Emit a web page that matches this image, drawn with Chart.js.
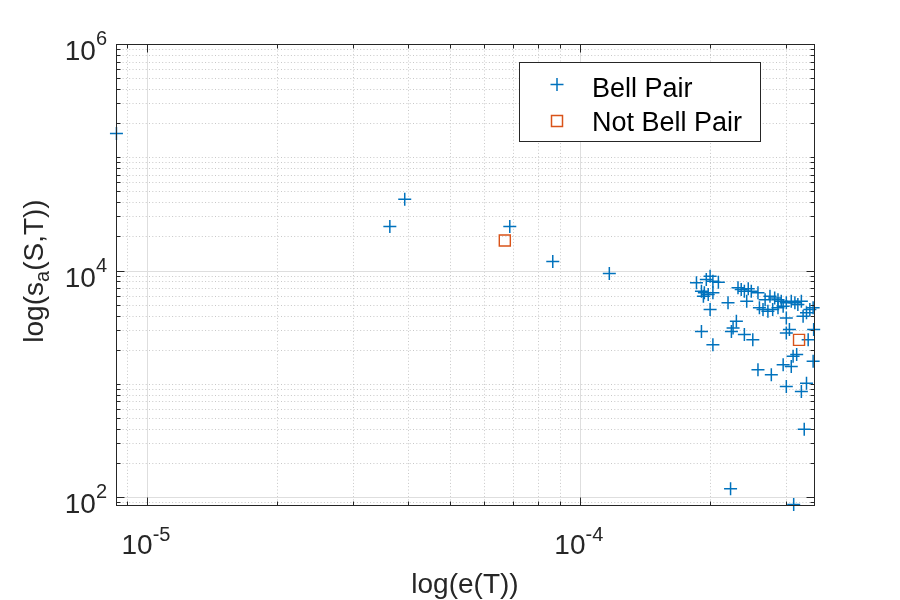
<!DOCTYPE html>
<html>
<head>
<meta charset="utf-8">
<script src="https://cdn.jsdelivr.net/npm/chart.js@4/dist/chart.umd.min.js"></script>
<style>
html, body { margin: 0; padding: 0; background: #fff; }
</style>
</head>
<body>
<canvas id="myChart" width="900" height="600"></canvas>
<script>
// log-log scatter, drawn to look like the matlab figure
var bellX = [8.5e-6, 3.94e-5, 3.64e-5, 6.89e-5, 8.66e-5, 1.17e-4,
	1.86e-4, 1.96e-4, 2.00e-4, 2.03e-4, 2.09e-4, 1.91e-4, 1.94e-4, 1.98e-4, 2.03e-4, 1.93e-4,
	2.00e-4, 2.20e-4, 1.91e-4, 2.03e-4, 2.30e-4, 2.26e-4, 2.24e-4, 2.40e-4, 2.51e-4,
	2.32e-4, 2.36e-4, 2.40e-4, 2.45e-4, 2.49e-4, 2.58e-4, 2.43e-4,
	2.68e-4, 2.75e-4, 2.82e-4, 2.87e-4, 2.92e-4, 2.65e-4, 2.72e-4, 2.79e-4, 2.87e-4, 2.95e-4,
	3.00e-4, 3.08e-4, 3.14e-4, 3.19e-4, 3.25e-4, 2.60e-4, 3.00e-4, 3.05e-4, 3.00e-4,
	3.28e-4, 3.34e-4, 3.40e-4, 3.46e-4, 3.47e-4, 3.37e-4, 3.17e-4, 3.11e-4, 2.95e-4, 3.08e-4,
	2.58e-4, 2.77e-4, 3.46e-4, 3.00e-4, 3.25e-4, 3.34e-4, 3.30e-4, 2.23e-4, 3.12e-4];
var bellY = [1.62e5, 4.25e4, 2.45e4, 2.45e4, 1.20e4, 9.4e3,
	7.78e3, 8.32e3, 8.91e3, 8.04e3, 7.88e3, 6.56e3, 6.35e3, 6.14e3, 6.35e3, 5.93e3,
	4.52e3, 5.18e3, 2.90e3, 2.21e3, 3.56e3, 3.11e3, 2.90e3, 2.72e3, 2.45e3,
	7.03e3, 6.79e3, 6.56e3, 6.89e3, 6.56e3, 6.35e3, 5.35e3,
	5.53e3, 5.93e3, 5.73e3, 5.53e3, 5.35e3, 4.52e3, 4.37e3, 4.52e3, 4.68e3, 4.83e3,
	5.18e3, 5.35e3, 5.18e3, 5.00e3, 5.35e3, 4.68e3, 3.81e3, 3.01e3, 2.81e3,
	3.94e3, 4.23e3, 4.52e3, 4.68e3, 3.01e3, 2.45e3, 1.81e3, 1.75e3, 1.47e3, 1.42e3,
	1.33e3, 1.20e3, 1.58e3, 946, 855, 1.01e3, 397, 118, 86];
var notBellX = [6.71e-5, 3.21e-4];
var notBellY = [1.84e4, 2.44e3];

var seriesNames = ['Bell Pair', 'Not Bell Pair'];
var xLimits = [8.48e-6, 3.476e-4];
var yLimits = [85, 1e6];
var xTickExp = [-5, -4];   // labelled decades -> 10^-5, 10^-4
var yTickExp = [2, 4, 6];
var xTitle = 'log(e(T))';
var yTitle = ['log(s', 'a', '(S,T))'];   // middle part is subscript

var BLUE = '#0072BD', ORANGE = '#D95319', AX = '#262626';
var FONT = '"Liberation Sans", Arial, sans-serif';

function toPoints(xs, ys) {
	var pts = [];
	for (var i = 0; i < xs.length; i++) pts.push({ x: xs[i], y: ys[i] });
	return pts;
}

// all 1..9 x 10^n values inside the range, split in labelled / not labelled
function logSteps(min, max, labelled) {
	var out = { major: [], minor: [] };
	for (var e = Math.floor(Math.log10(min)); e <= Math.ceil(Math.log10(max)); e++) {
		for (var k = 1; k < 10; k++) {
			var v = k * Math.pow(10, e);
			if (v < min * 0.9999 || v > max * 1.0001) continue;
			if (k === 1 && labelled.indexOf(e) >= 0) out.major.push(v);
			else out.minor.push(v);
		}
	}
	return out;
}

function powLabel(ctx, exp, x, y, align, rise) {
	ctx.font = '28px ' + FONT;
	var wb = ctx.measureText('10').width;
	ctx.font = '20px ' + FONT;
	var ws = ctx.measureText(String(exp)).width;
	var left = align === 'center' ? x - (wb + ws) / 2 : x - (wb + ws);
	ctx.textAlign = 'left';
	ctx.textBaseline = 'alphabetic';
	ctx.font = '28px ' + FONT;
	ctx.fillText('10', left, y);
	ctx.font = '20px ' + FONT;
	ctx.fillText(String(exp), left + wb, y - rise);
}

function crossMark(ctx, x, y, r) {
	ctx.beginPath();
	ctx.moveTo(x - r, y); ctx.lineTo(x + r, y);
	ctx.moveTo(x, y - r); ctx.lineTo(x, y + r);
	ctx.stroke();
}

var matlabLook = {
	id: 'matlabLook',
	beforeDraw: function (chart) {
		var ctx = chart.ctx;
		ctx.save();
		ctx.fillStyle = '#fff';
		ctx.fillRect(0, 0, chart.width, chart.height);
		ctx.restore();
	},
	beforeDatasetsDraw: function (chart) {
		var ctx = chart.ctx, a = chart.chartArea;
		var xs = chart.scales.x, ys = chart.scales.y;
		var gx = logSteps(xLimits[0], xLimits[1], xTickExp);
		var gy = logSteps(yLimits[0], yLimits[1], yTickExp);
		ctx.save();
		ctx.lineWidth = 1;
		// minor grid, dotted
		ctx.strokeStyle = '#c8c8c8';
		ctx.setLineDash([1, 2.3]);
		gx.minor.forEach(function (v) {
			var p = Math.round(xs.getPixelForValue(v)) + 0.5;
			ctx.beginPath(); ctx.moveTo(p, a.top); ctx.lineTo(p, a.bottom); ctx.stroke();
		});
		gy.minor.forEach(function (v) {
			var p = Math.round(ys.getPixelForValue(v)) + 0.5;
			ctx.beginPath(); ctx.moveTo(a.left, p); ctx.lineTo(a.right, p); ctx.stroke();
		});
		// major grid, solid
		ctx.setLineDash([]);
		ctx.strokeStyle = '#dedede';
		gx.major.forEach(function (v) {
			var p = Math.round(xs.getPixelForValue(v)) + 0.5;
			ctx.beginPath(); ctx.moveTo(p, a.top); ctx.lineTo(p, a.bottom); ctx.stroke();
		});
		gy.major.forEach(function (v) {
			var p = Math.round(ys.getPixelForValue(v)) + 0.5;
			ctx.beginPath(); ctx.moveTo(a.left, p); ctx.lineTo(a.right, p); ctx.stroke();
		});
		ctx.restore();
	},
	afterDatasetsDraw: function (chart) {
		var ctx = chart.ctx, a = chart.chartArea;
		var xs = chart.scales.x, ys = chart.scales.y;
		var gx = logSteps(xLimits[0], xLimits[1], xTickExp);
		var gy = logSteps(yLimits[0], yLimits[1], yTickExp);
		var L = Math.round(a.left) + 0.5, R = Math.round(a.right) + 0.5;
		var T = Math.round(a.top) + 0.5, B = Math.round(a.bottom) + 0.5;
		ctx.save();
		ctx.strokeStyle = AX;
		ctx.lineWidth = 1;
		ctx.strokeRect(L, T, R - L, B - T);

		// ticks pointing in, on all four sides
		function xTick(v, len) {
			var p = Math.round(xs.getPixelForValue(v)) + 0.5;
			ctx.beginPath();
			ctx.moveTo(p, B); ctx.lineTo(p, B - len);
			ctx.moveTo(p, T); ctx.lineTo(p, T + len);
			ctx.stroke();
		}
		function yTick(v, len) {
			var p = Math.round(ys.getPixelForValue(v)) + 0.5;
			ctx.beginPath();
			ctx.moveTo(L, p); ctx.lineTo(L + len, p);
			ctx.moveTo(R, p); ctx.lineTo(R - len, p);
			ctx.stroke();
		}
		gx.minor.forEach(function (v) { xTick(v, 4); });
		gx.major.forEach(function (v) { xTick(v, 8); });
		gy.minor.forEach(function (v) { yTick(v, 4); });
		gy.major.forEach(function (v) { yTick(v, 8); });

		// tick labels 10^n
		ctx.fillStyle = AX;
		xTickExp.forEach(function (e) {
			powLabel(ctx, e, xs.getPixelForValue(Math.pow(10, e)) - 1, B + 48, 'center', 13);
		});
		yTickExp.forEach(function (e) {
			powLabel(ctx, e, a.left - 9, ys.getPixelForValue(Math.pow(10, e)) + 16, 'right', 15);
		});

		// axis titles
		ctx.font = '28px ' + FONT;
		ctx.textAlign = 'center';
		ctx.fillText(xTitle, (a.left + a.right) / 2, 593);

		ctx.save();
		ctx.translate(43, 271);
		ctx.rotate(-Math.PI / 2);
		ctx.font = '28px ' + FONT;
		var w0 = ctx.measureText(yTitle[0]).width;
		var w2 = ctx.measureText(yTitle[2]).width;
		ctx.font = '20px ' + FONT;
		var w1 = ctx.measureText(yTitle[1]).width;
		var sx = -(w0 + w1 + w2) / 2;
		ctx.textAlign = 'left';
		ctx.font = '28px ' + FONT;
		ctx.fillText(yTitle[0], sx, 0);
		ctx.font = '20px ' + FONT;
		ctx.fillText(yTitle[1], sx + w0, 6);
		ctx.font = '28px ' + FONT;
		ctx.fillText(yTitle[2], sx + w0 + w1, 0);
		ctx.restore();

		// legend box, top right inside the axes
		var lx = 519.5, ly = 62.5, lw = 241, lh = 79;
		ctx.fillStyle = '#fff';
		ctx.fillRect(lx, ly, lw, lh);
		ctx.strokeStyle = AX;
		ctx.strokeRect(lx, ly, lw, lh);
		ctx.lineWidth = 1.5;
		ctx.strokeStyle = BLUE;
		crossMark(ctx, 557, 84.5, 6.5);
		ctx.strokeStyle = ORANGE;
		ctx.strokeRect(551.5, 115.5, 11, 11);
		ctx.fillStyle = '#000';
		ctx.font = '27px ' + FONT;
		ctx.textAlign = 'left';
		ctx.fillText(seriesNames[0], 592, 97);
		ctx.fillText(seriesNames[1], 592, 131);
		ctx.restore();
	}
};

var myChart = new Chart(document.getElementById('myChart').getContext('2d'), {
	type: 'scatter',
	data: {
		datasets: [{
			label: seriesNames[0],
			data: toPoints(bellX, bellY),
			pointStyle: 'cross',
			pointRadius: 6.5,
			pointHoverRadius: 6.5,
			pointBorderWidth: 1.5,
			borderColor: BLUE,
			backgroundColor: BLUE,
			clip: false,
			order: 2
		}, {
			label: seriesNames[1],
			data: toPoints(notBellX, notBellY),
			pointStyle: 'rect',
			pointRadius: 7.8,
			pointHoverRadius: 7.8,
			pointBorderWidth: 1.4,
			borderColor: ORANGE,
			backgroundColor: 'rgba(0,0,0,0)',
			clip: false,
			order: 1
		}]
	},
	options: {
		responsive: false,
		animation: false,
		devicePixelRatio: 1,
		layout: { padding: { top: 44, right: 86, left: 0, bottom: 0 } },
		plugins: { legend: { display: false }, tooltip: { enabled: false } },
		scales: {
			x: {
				type: 'logarithmic', min: xLimits[0], max: xLimits[1],
				ticks: { display: false }, grid: { display: false }, border: { display: false },
				afterFit: function (s) { s.height = 95; }
			},
			y: {
				type: 'logarithmic', min: yLimits[0], max: yLimits[1],
				ticks: { display: false }, grid: { display: false }, border: { display: false },
				afterFit: function (s) { s.width = 116; }
			}
		}
	},
	plugins: [matlabLook]
});
</script>
</body>
</html>
